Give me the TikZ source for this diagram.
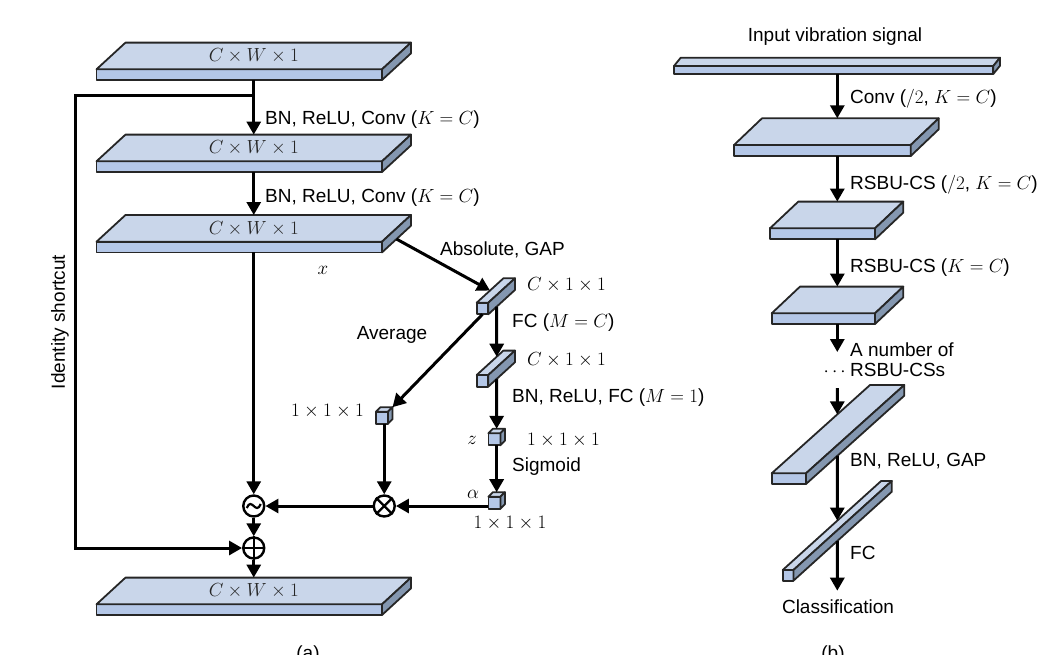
\RequirePackage{fix-cm}
\documentclass[tikz,border=0pt]{standalone}
\usepackage{fontspec}
\setmainfont{Liberation Sans}
\usepackage{xcolor}
\usepackage{tikz}
\usetikzlibrary{arrows.meta}
\usetikzlibrary{calc}

\definecolor{slabtop}{HTML}{C9D6EA}
\definecolor{slabfront}{HTML}{B4C7E7}
\definecolor{slabside}{HTML}{8497B0}

% #1 name, (#2,#3) front top-left corner, #4 width, #5 height, (#6,#7) depth
\newcommand{\cuboid}[7]{%
  \coordinate (#1-fl) at (#2,#3);
  \coordinate (#1-fr) at ($(#1-fl)+(#4,0)$);
  \coordinate (#1-bl) at ($(#1-fl)+(0,#5)$);
  \coordinate (#1-br) at ($(#1-fl)+(#4,#5)$);
  \coordinate (#1-tl) at ($(#1-fl)+(#6,#7)$);
  \coordinate (#1-tr) at ($(#1-fr)+(#6,#7)$);
  \coordinate (#1-sr) at ($(#1-br)+(#6,#7)$);
  \coordinate (#1-c) at ($(#1-fl)!0.5!(#1-tr)$);
  \path[facefront] (#1-fl) rectangle (#1-br);
  \path[facetop] (#1-fl) -- (#1-tl) -- (#1-tr) -- (#1-fr) -- cycle;
  \path[faceside] (#1-fr) -- (#1-tr) -- (#1-sr) -- (#1-br) -- cycle;
}

\begin{document}
\begin{tikzpicture}[x=1pt, y=-1pt, font=\fontsize{19}{22}\selectfont]
\tikzstyle{facefront}=[draw=black!85, line width=1.8pt, line join=round, fill=slabfront]
\tikzstyle{facetop}=[draw=black!85, line width=1.8pt, line join=round, fill=slabtop]
\tikzstyle{faceside}=[draw=black!85, line width=1.8pt, line join=round, fill=slabside]
\tikzstyle{flow}=[draw=black, line width=3pt, -{Triangle[width=14pt,length=13pt]}]
\tikzstyle{op}=[circle, draw=black, line width=2.4pt, minimum size=21pt, inner sep=0pt]
\tikzstyle{opmark}=[draw=black, line width=2.2pt]
\tikzstyle{lbl}=[anchor=west, inner sep=0pt]
\tikzstyle{dimlabel}=[inner sep=0pt, text=black!85]

\useasboundingbox (0,0) rectangle (1049,654);

% (a) feature maps of the unit
\foreach \s/\y in {s1/69.3, s2/161.3, s3/241.7, s4/604.3}
  \cuboid{\s}{96.5}{\y}{285.5}{10.7}{29}{-26.7};
\foreach \s in {s1, s2, s3, s4}
  \node[dimlabel] (\s-txt) at (\s-c) {$C\times W\times 1$};

% threshold branch
\cuboid{g1}{476.7}{302.7}{11.6}{11.6}{26.7}{-24.4}
\cuboid{g2}{476.7}{375}{11.6}{11.6}{26.7}{-24.4}
\cuboid{avg}{376}{411.7}{12}{12}{4.5}{-4.5}
\cuboid{z}{488.4}{433.3}{12}{12}{4.5}{-4.5}
\cuboid{alpha}{488.4}{496.7}{12}{12}{4.5}{-4.5}

\node[op] (sub) at (s3-c |- 0,506) {};
\node[op] (add) at (s3-c |- 0,548) {};
\node[op] (mul) at (avg-c |- 0,506) {};
\draw[opmark] (mul.north west) -- (mul.south east) (mul.north east) -- (mul.south west);
\draw[opmark] (add.north) -- (add.south) (add.west) -- (add.east);
\draw[opmark] ($(sub)+(-7,2)$) .. controls ($(sub)+(-2,-10)$) and ($(sub)+(2,10)$) .. ($(sub)+(7,-2)$);

\coordinate (split) at (s1-c |- 0,95);
\coordinate (bend) at (75,95);

\draw[flow] (s1-c |- s1-bl) -- (s1-c |- s2-tl);
\draw[flow] (s2-c |- s2-bl) -- (s2-c |- s3-tl);
\draw[flow] (s3-c |- s3-bl) -- (sub);
\draw[flow] (sub) -- (add);
\draw[flow] (add) -- (s4-c |- s4-tl);
\draw[flow] (split) -- (bend) |- (add);
\draw[flow] ($(s3-br)!0.5!(s3-sr)$) -- ($(g1-fl)!0.5!(g1-tl)$);
\draw[flow] ($(g1-bl)!0.5!(g1-br)$) -- (avg-tr);
\draw[flow] ($(g1-br)!0.315!(g1-sr)$) -- ($(g2-fl)!0.75!(g2-tl)$);
\draw[flow] ($(g2-br)!0.315!(g2-sr)$) -- (z-c |- z-tl);
\draw[flow] (z-c |- z-bl) -- (alpha-c |- alpha-tl);
\draw[flow] (avg-c |- avg-bl) -- (mul);
\draw[flow] (mul.east -| alpha-fl) -- (mul);
\draw[flow] (mul) -- (sub);

\node[lbl] (conv1) at (265,120) {BN, ReLU, Conv ($K=C$)};
\node[lbl] (conv2) at (265,198) {BN, ReLU, Conv ($K=C$)};
\node (xlbl) at (323,270) {$x$};
\node[lbl] (gaplbl) at (440,250) {Absolute, GAP};
\node[lbl] (g1dim) at (527,285) {$C\times 1\times 1$};
\node[lbl] (fc1lbl) at (512,323) {FC ($M=C$)};
\node[lbl] (g2dim) at (527,360) {$C\times 1\times 1$};
\node (avglbl) at (392,335) {Average};
\node[lbl] (fc2lbl) at (512,398) {BN, ReLU, FC ($M=1$)};
\node[anchor=east, inner sep=0pt] (avgdim) at (364,411) {$1\times 1\times 1$};
\node (zlbl) at (472,440) {$z$};
\node[lbl] (zdim) at (527,440) {$1\times 1\times 1$};
\node[lbl] (siglbl) at (512,467) {Sigmoid};
\node (alphalbl) at (473,494) {$\alpha$};
\node (alphadim) at (510,523) {$1\times 1\times 1$};
\node[rotate=90] (idlbl) at (60,322) {Identity shortcut};
\node[anchor=base] (capa) at (308,659) {(a)};

% (b) overall network
\cuboid{inp}{674}{66}{319.3}{8}{6.7}{-8.3}
\cuboid{b1}{734}{145}{176.7}{11}{28}{-26.7}
\cuboid{b2}{770}{228.3}{105}{11}{28.3}{-26.7}
\cuboid{b3}{771.7}{313.3}{103.3}{10.7}{28.3}{-26.7}
\cuboid{gap}{771.7}{473.3}{34.3}{10.7}{98.3}{-88.3}
\cuboid{fc}{782.7}{570}{10.7}{10.7}{98.4}{-89}

\coordinate (spine) at (837.3,0);
\coordinate (more-in) at (spine |- 0,352);
\coordinate (more-out) at (spine |- 0,388);

\node (inlbl) at (835,37) {Input vibration signal};
\node[anchor=base] (cls) at (838,613) {Classification};

\draw[flow] (spine |- inp-bl) -- (spine |- b1-tl);
\draw[flow] (spine |- b1-bl) -- (spine |- b2-tl);
\draw[flow] (spine |- b2-bl) -- (spine |- b3-tl);
\draw[flow] (spine |- b3-bl) -- (more-in);
\draw[flow] (more-out) -- ($(gap-fl)!0.667!(gap-tl)$);
\draw[flow] ($(gap-br)!0.318!(gap-sr)$) -- ($(fc-fl)!0.555!(fc-tl)$);
\draw[flow] ($(fc-br)!0.447!(fc-sr)$) -- ([yshift=5pt]cls.north -| spine);

\node[lbl] (convlbl) at (850,99) {Conv ($/2$, $K=C$)};
\node[lbl] (rsbu1) at (850,185) {RSBU-CS ($/2$, $K=C$)};
\node[lbl] (rsbu2) at (850,268) {RSBU-CS ($K=C$)};
\node[lbl] (morelbl) at (850,350) {A number of};
\node[lbl] (morelbl2) at (850,370) {RSBU-CSs};
\node[anchor=east, inner sep=0pt] (dots) at (846,372) {$\cdots$};
\node[lbl] (gaplbl2) at (850,461) {BN, ReLU, GAP};
\node[lbl] (fclbl) at (850,553) {FC};
\node[anchor=base] (capb) at (833,659) {(b)};
\end{tikzpicture}
\end{document}
